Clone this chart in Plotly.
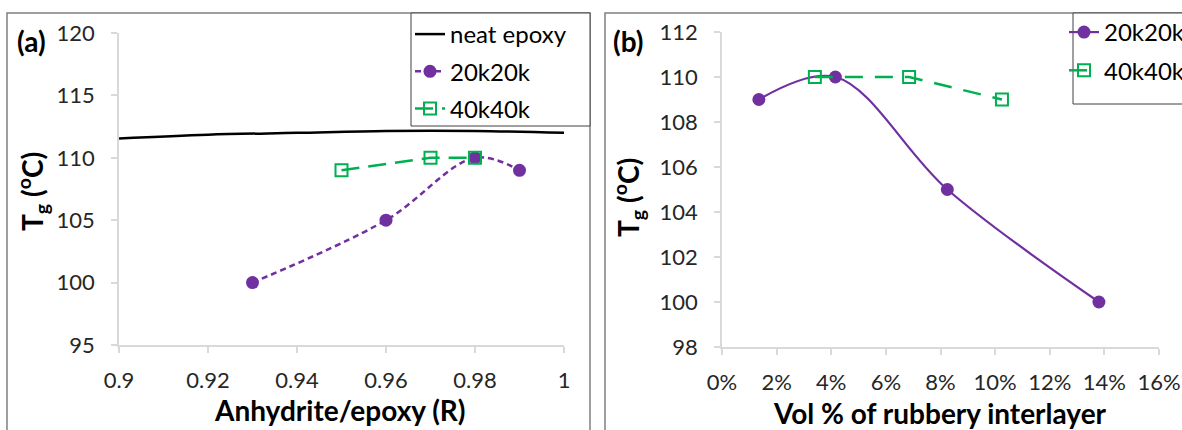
import plotly.graph_objects as go

# ---------------- data ----------------
# Panel (a): Tg vs anhydride/epoxy ratio
neat_R = [0.90, 0.92, 0.94, 0.96, 0.98, 1.00]
neat_Tg = [111.55, 111.85, 112.0, 112.15, 112.15, 112.0]
a20_R = [0.93, 0.96, 0.98, 0.99]
a20_Tg = [100, 105, 110, 109]
a40_R = [0.95, 0.97, 0.98]
a40_Tg = [109, 110, 110]

# Panel (b): Tg vs vol % of rubbery interlayer
b20_vol = [1.35, 4.15, 8.25, 13.8]
b20_Tg = [109, 110, 105, 100]
b40_vol = [3.4, 6.85, 10.25]
b40_Tg = [110, 110, 109]

a_xticks = [0.9, 0.92, 0.94, 0.96, 0.98, 1.0]
a_xticklabels = ["0.9", "0.92", "0.94", "0.96", "0.98", "1"]
a_yticks = [95, 100, 105, 110, 115, 120]
b_xticks = [0, 2, 4, 6, 8, 10, 12, 14, 16]
b_xticklabels = [f"{v}%" for v in b_xticks]
b_yticks = [98, 100, 102, 104, 106, 108, 110, 112]

W, H = 1182, 430
PURPLE = "#7030A0"
GREEN = "#00B050"
FONT = "Lato, 'Open Sans', sans-serif"
AX = "#D9D9D9"


def X(px):
    return px / W


def Y(py):
    return 1 - py / H


fig = go.Figure()

# ---- panel (a)
fig.add_trace(go.Scatter(x=neat_R, y=neat_Tg, mode="lines", name="neat epoxy",
                         line=dict(color="black", width=2.5, shape="spline", smoothing=1),
                         xaxis="x", yaxis="y", legend="legend", legendgroup="n"))
fig.add_trace(go.Scatter(x=a20_R, y=a20_Tg, mode="lines+markers", name="20k20k",
                         line=dict(color=PURPLE, width=2.5, dash="6px,4px", shape="spline", smoothing=1),
                         marker=dict(symbol="circle", size=13, color=PURPLE),
                         xaxis="x", yaxis="y", legend="legend", legendgroup="a20"))
fig.add_trace(go.Scatter(x=a40_R, y=a40_Tg, mode="lines+markers", name="40k40k",
                         line=dict(color=GREEN, width=2.5, dash="18px,9px"),
                         marker=dict(symbol="square-open", size=12, color=GREEN, line=dict(width=2, color=GREEN)),
                         xaxis="x", yaxis="y", legend="legend", legendgroup="a40"))

# ---- panel (b)
fig.add_trace(go.Scatter(x=b20_vol, y=b20_Tg, mode="lines+markers", name="20k20k",
                         line=dict(color=PURPLE, width=2.2, shape="spline", smoothing=1),
                         marker=dict(symbol="circle", size=13, color=PURPLE),
                         xaxis="x2", yaxis="y2", legend="legend2", legendgroup="b20"))
fig.add_trace(go.Scatter(x=b40_vol, y=b40_Tg, mode="lines+markers", name="40k40k",
                         line=dict(color=GREEN, width=2.5, dash="18px,12px"),
                         marker=dict(symbol="square-open", size=12, color=GREEN, line=dict(width=2, color=GREEN)),
                         xaxis="x2", yaxis="y2", legend="legend2", legendgroup="b40"))

axis_common = dict(showgrid=False, zeroline=False, showline=True, linecolor=AX, linewidth=1.5,
                   ticks="outside", tickcolor=AX, ticklen=6, tickwidth=1.5,
                   tickfont=dict(family=FONT, size=22, color="#262626"))

fig.update_layout(
    width=W, height=H,
    margin=dict(l=0, r=0, t=0, b=0, autoexpand=False),
    paper_bgcolor="white", plot_bgcolor="white",
    font=dict(family=FONT, color="black"),
    xaxis=dict(domain=[X(119), X(564)], range=[0.9, 1.0], tickvals=a_xticks, ticktext=a_xticklabels,
               anchor="y", ticklabelstandoff=9, **axis_common),
    yaxis=dict(domain=[Y(345), Y(33)], range=[95, 120], tickvals=a_yticks,
               anchor="x", ticklabelstandoff=12, **axis_common),
    xaxis2=dict(domain=[X(722), X(1159)], range=[0, 16], tickvals=b_xticks, ticktext=b_xticklabels,
                anchor="y2", ticklabelstandoff=9, **axis_common),
    yaxis2=dict(domain=[Y(347), Y(32)], range=[98, 112], tickvals=b_yticks,
                anchor="x2", ticklabelstandoff=12, **axis_common),
    legend=dict(x=X(410), y=Y(12), xanchor="left", yanchor="top", bgcolor="rgba(0,0,0,0)",
                borderwidth=0, font=dict(family=FONT, size=24, color="black"), tracegroupgap=3,
                itemwidth=30),
    legend2=dict(x=X(1064), y=Y(10), xanchor="left", yanchor="top", bgcolor="rgba(0,0,0,0)",
                 borderwidth=0, font=dict(family=FONT, size=24, color="black"), tracegroupgap=4,
                 itemwidth=30),
    showlegend=True,
)

# panel frames and legend boxes
fig.add_shape(type="rect", xref="paper", yref="paper", x0=X(7), x1=X(590), y0=Y(440), y1=Y(13),
              line=dict(color="#808080", width=1.5), layer="below")
fig.add_shape(type="rect", xref="paper", yref="paper", x0=X(605), x1=X(1190), y0=Y(440), y1=Y(13),
              line=dict(color="#808080", width=1.5), layer="below")
fig.add_shape(type="rect", xref="paper", yref="paper", x0=X(411), x1=X(590), y0=Y(126), y1=Y(13),
              line=dict(color="#404040", width=1), fillcolor="white", layer="below")
fig.add_shape(type="rect", xref="paper", yref="paper", x0=X(1073), x1=X(1190), y0=Y(104), y1=Y(13),
              line=dict(color="#404040", width=1), fillcolor="white", layer="below")

# labels
ann = dict(xref="paper", yref="paper", showarrow=False, xanchor="center", yanchor="middle",
           font=dict(family=FONT, size=28, color="black"))
fig.add_annotation(text="<b>(a)</b>", x=X(31), y=Y(41), **ann)
fig.add_annotation(text="<b>(b)</b>", x=X(628), y=Y(41), **ann)
fig.add_annotation(text="<b>Anhydrite/epoxy (R)</b>", x=X(340), y=Y(410), **ann)
fig.add_annotation(text="<b>Vol % of rubbery interlayer</b>", x=X(940), y=Y(413), **ann)
fig.add_annotation(text="<b>T<sub>g</sub> (<sup>o</sup>C)</b>", x=X(32), y=Y(192), textangle=-90, **ann)
fig.add_annotation(text="<b>T<sub>g</sub> (<sup>o</sup>C)</b>", x=X(628), y=Y(198), textangle=-90, **ann)

fig.write_html("out.html", config={"displayModeBar": False},
               post_script="document.body.style.margin='0';document.body.style.padding='0';")
